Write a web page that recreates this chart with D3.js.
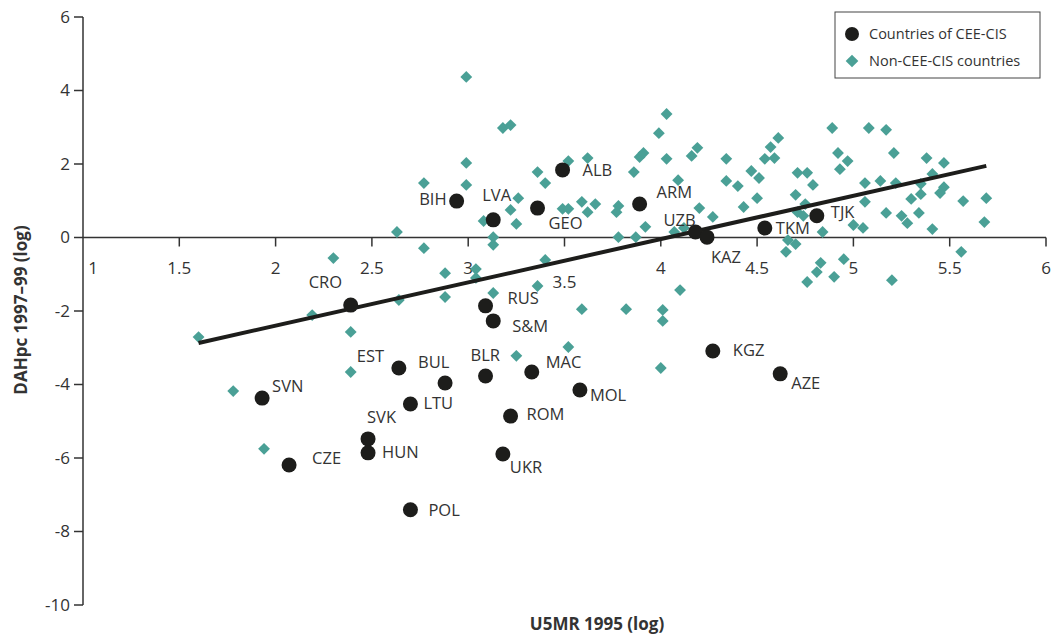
<!DOCTYPE html>
<html>
<head>
<meta charset="utf-8">
<script src="https://cdn.jsdelivr.net/npm/d3@7"></script>
<style>
  body { margin: 0; background: #fff; }
  text { font-family: "Open Sans", "Noto Sans", sans-serif; fill: #333; }
</style>
</head>
<body>
<div id="chart"></div>
<script>
// CEE-CIS countries: U5MR 1995 (log) vs DAHpc 1997-99 (log)
const ceeNames = ["ALB", "BIH", "LVA", "GEO", "ARM", "UZB", "KAZ", "TKM", "TJK",
    "CRO", "RUS", "S&M", "EST", "BUL", "BLR", "MAC", "MOL", "KGZ", "AZE",
    "SVN", "LTU", "ROM", "SVK", "HUN", "CZE", "UKR", "POL"];
const ceeX = [3.49, 2.94, 3.13, 3.36, 3.89, 4.18, 4.24, 4.54, 4.81,
    2.39, 3.09, 3.13, 2.64, 2.88, 3.09, 3.33, 3.58, 4.27, 4.62,
    1.93, 2.70, 3.22, 2.48, 2.48, 2.07, 3.18, 2.70];
const ceeY = [1.84, 0.99, 0.48, 0.80, 0.91, 0.15, 0.01, 0.26, 0.59,
    -1.84, -1.86, -2.27, -3.55, -3.96, -3.77, -3.66, -4.15, -3.09, -3.71,
    -4.37, -4.53, -4.86, -5.48, -5.86, -6.19, -5.89, -7.41];

// Non-CEE-CIS countries
const otherX = [2.99, 3.18, 3.22, 2.99, 2.77, 2.99, 3.36, 3.40, 3.52, 3.62,
    3.26, 3.22, 3.08, 3.25, 2.63, 2.77, 3.13, 3.13, 3.40, 3.49,
    3.52, 3.59, 3.62, 3.66, 3.77, 3.78, 3.86, 3.89, 3.91, 3.99,
    4.03, 4.03, 4.09, 4.16, 4.19, 4.20, 4.27, 3.78, 3.87, 3.92,
    4.07, 4.12, 4.34, 4.34, 4.89, 5.08, 5.17, 4.61, 4.57, 4.54,
    4.59, 4.92, 4.97, 4.93, 5.21, 5.38, 5.47, 4.47, 4.51, 4.40,
    4.71, 4.76, 4.79, 5.06, 5.14, 5.22, 5.35, 5.41, 5.47, 5.45,
    5.35, 5.30, 5.57, 5.69, 4.50, 4.70, 4.43, 4.75, 4.71, 4.74,
    5.06, 5.17, 5.25, 5.28, 5.34, 5.41, 5.68, 5.00, 5.05, 4.84,
    4.66, 4.70, 4.65, 5.56, 4.83, 4.81, 4.76, 4.90, 4.95, 5.20,
    3.36, 4.10, 3.59, 3.82, 4.01, 4.01, 2.30, 2.88, 3.04, 3.04,
    3.13, 2.64, 2.88, 2.19, 1.60, 2.39, 2.39, 1.78, 1.94, 3.25,
    3.52, 4.00];
const otherY = [4.37, 2.98, 3.06, 2.03, 1.48, 1.43, 1.78, 1.48, 2.08, 2.16,
    1.07, 0.75, 0.45, 0.37, 0.15, -0.29, 0.01, -0.20, -0.61, 0.78,
    0.78, 0.97, 0.69, 0.91, 0.69, 0.86, 1.78, 2.19, 2.30, 2.84,
    3.36, 2.14, 1.56, 2.22, 2.44, 0.80, 0.56, 0.01, 0.01, 0.29,
    0.15, 0.26, 2.14, 1.54, 2.98, 2.98, 2.93, 2.71, 2.46, 2.14,
    2.16, 2.30, 2.08, 1.86, 2.30, 2.16, 2.03, 1.81, 1.62, 1.40,
    1.76, 1.76, 1.43, 1.48, 1.54, 1.48, 1.46, 1.73, 1.37, 1.21,
    1.18, 1.05, 0.99, 1.07, 1.07, 1.16, 0.83, 0.91, 0.69, 0.59,
    0.97, 0.67, 0.59, 0.39, 0.67, 0.23, 0.42, 0.34, 0.26, 0.15,
    -0.07, -0.18, -0.39, -0.39, -0.69, -0.94, -1.21, -1.07, -0.59, -1.16,
    -1.32, -1.43, -1.95, -1.95, -1.97, -2.27, -0.56, -0.97, -0.86, -1.10,
    -1.51, -1.70, -1.62, -2.11, -2.71, -2.57, -3.66, -4.18, -5.75, -3.22,
    -2.98, -3.55];

// fitted line: y = intercept + slope * x
const fitIntercept = -4.755;
const fitSlope = 1.178;

const xTicks = [1, 1.5, 2, 2.5, 3, 3.5, 4, 4.5, 5, 5.5, 6];
const yTicks = [6, 4, 2, 0, -2, -4, -6, -8, -10];
const legendLabels = ["Countries of CEE-CIS", "Non-CEE-CIS countries"];

// label placement (text start / centre offset from point, px)
const labelOffset = {
    "ALB": [20, 0], "BIH": [-10, -2, "end"], "LVA": [-11, -25], "GEO": [11, 15],
    "ARM": [17, -12], "UZB": [-32, -12], "KAZ": [4, 20], "TKM": [11, 0],
    "TJK": [14, -4], "CRO": [-42, -23], "RUS": [22, -8], "S&M": [19, 5],
    "EST": [-42, -12], "BUL": [-27, -21], "BLR": [-15, -21], "MAC": [14, -10],
    "MOL": [10, 5], "KGZ": [20, -1], "AZE": [11, 9], "SVN": [10, -12],
    "LTU": [13, -1], "ROM": [16, -2], "SVK": [-1, -22], "HUN": [14, -1],
    "CZE": [23, -7], "UKR": [7, 13], "POL": [18, 0]
};

const width = 1052, height = 639;
const teal = "#4aa096", dark = "#1d1d1b", axisCol = "#333";

const svg = d3.select("#chart").append("svg")
    .attr("width", width)
    .attr("height", height);

const x = d3.scaleLinear().domain([1, 6]).range([83, 1046]);
const y = d3.scaleLinear().domain([-10, 6]).range([605, 17]);

// y axis
svg.append("line")
    .attr("x1", x(1)).attr("x2", x(1))
    .attr("y1", y(6)).attr("y2", y(-10))
    .attr("stroke", axisCol).attr("stroke-width", 1.5);
svg.selectAll(".ytick").data(yTicks).enter().append("line")
    .attr("x1", x(1) - 9).attr("x2", x(1))
    .attr("y1", d => y(d)).attr("y2", d => y(d))
    .attr("stroke", axisCol).attr("stroke-width", 1.5);
svg.selectAll(".ylab").data(yTicks).enter().append("text")
    .attr("x", x(1) - 13)
    .attr("y", d => y(d))
    .attr("dy", "0.35em")
    .attr("text-anchor", "end")
    .attr("font-size", 17)
    .text(d => d);

// x axis along zero
svg.append("line")
    .attr("x1", x(1)).attr("x2", x(6))
    .attr("y1", y(0)).attr("y2", y(0))
    .attr("stroke", axisCol).attr("stroke-width", 1.5);
svg.selectAll(".xtick").data(xTicks.slice(1)).enter().append("line")
    .attr("x1", d => x(d)).attr("x2", d => x(d))
    .attr("y1", y(0)).attr("y2", y(0) + 9)
    .attr("stroke", axisCol).attr("stroke-width", 1.5);
svg.selectAll(".xlab").data(xTicks).enter().append("text")
    .attr("x", d => x(d) + (d === 1 ? 10 : 0))
    .attr("y", d => y(0) + (d === 3.5 ? 50 : 36))
    .attr("text-anchor", "middle")
    .attr("font-size", 17)
    .text(d => d);

// axis titles
svg.append("text")
    .attr("x", 597).attr("y", 630)
    .attr("text-anchor", "middle")
    .attr("font-size", 17).attr("font-weight", "bold")
    .attr("fill", "#222")
    .text("U5MR 1995 (log)");
svg.append("text")
    .attr("transform", "translate(27,310) rotate(-90)")
    .attr("text-anchor", "middle")
    .attr("font-size", 17).attr("font-weight", "bold")
    .attr("fill", "#222")
    .text("DAHpc 1997–99 (log)");

// non-CEE diamonds
const diamond = d3.symbol().type(d3.symbolSquare).size(70);
svg.selectAll(".other").data(otherX).enter().append("path")
    .attr("d", diamond)
    .attr("transform", (d, i) => `translate(${x(d)},${y(otherY[i])}) rotate(45)`)
    .attr("fill", teal);

// fitted line over data range
const allX = ceeX.concat(otherX);
const fitX = d3.extent(allX);
svg.append("line")
    .attr("x1", x(fitX[0])).attr("y1", y(fitIntercept + fitSlope * fitX[0]))
    .attr("x2", x(fitX[1])).attr("y2", y(fitIntercept + fitSlope * fitX[1]))
    .attr("stroke", dark).attr("stroke-width", 4);

// CEE-CIS circles and labels
svg.selectAll(".cee").data(ceeX).enter().append("circle")
    .attr("cx", d => x(d))
    .attr("cy", (d, i) => y(ceeY[i]))
    .attr("r", 7.5)
    .attr("fill", dark);
svg.selectAll(".ceelab").data(ceeNames).enter().append("text")
    .attr("x", (d, i) => x(ceeX[i]) + labelOffset[d][0])
    .attr("y", (d, i) => y(ceeY[i]) + labelOffset[d][1])
    .attr("dy", "0.35em")
    .attr("text-anchor", d => labelOffset[d][2] || "start")
    .attr("font-size", 16.5)
    .text(d => d);

// legend
const lg = svg.append("g").attr("transform", "translate(835,12)");
lg.append("rect")
    .attr("width", 205).attr("height", 66)
    .attr("fill", "#fff").attr("stroke", "#444").attr("stroke-width", 1);
lg.append("circle").attr("cx", 17).attr("cy", 22).attr("r", 7).attr("fill", dark);
lg.append("path").attr("d", d3.symbol().type(d3.symbolSquare).size(80))
    .attr("transform", "translate(17,49) rotate(45)").attr("fill", teal);
lg.selectAll(".lgt").data(legendLabels).enter().append("text")
    .attr("x", 34)
    .attr("y", (d, i) => 22 + i * 27)
    .attr("dy", "0.35em")
    .attr("font-size", 14.5)
    .attr("fill", "#222")
    .text(d => d);
</script>
</body>
</html>
